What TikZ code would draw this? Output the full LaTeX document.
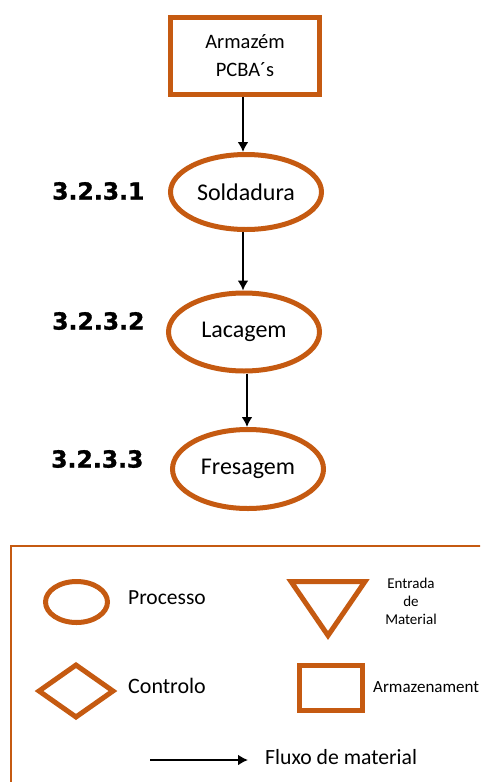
\documentclass[tikz,border=0pt]{standalone}
\usepackage{fontspec}
\setmainfont{Carlito}
\newfontfamily\numfont[BoldFeatures={FakeBold=1.2}]{DejaVu Sans}
\usetikzlibrary{shapes.geometric,arrows.meta}
\definecolor{rust}{RGB}{197,90,17}
\tikzset{
  proc/.style={ellipse, draw=rust, line width=5pt, inner sep=0pt,
               minimum width=151pt, font=\fontsize{24}{28}\selectfont},
  store/.style={rectangle, draw=rust, line width=5.5pt, inner sep=0pt},
  flow/.style={-{Latex[length=10pt,width=11pt]}, line width=2.4pt, black},
  stepnum/.style={anchor=west, inner sep=0pt,
                  font=\numfont\bfseries\fontsize{23.5}{26}\selectfont},
  legtext/.style={anchor=west, inner sep=0pt},
}
\begin{document}
\begin{tikzpicture}[x=1pt,y=-1pt]
\clip (0,0) rectangle (480,782);
\fill[white] (0,0) rectangle (480,782);

% process chain
\node[store, minimum width=149pt, minimum height=77pt,
      align=center, font=\fontsize{20.5}{28}\selectfont] (box) at (245,56)
      {Armazém\\PCBA´s};
\node[proc, minimum height=75pt] (s1) at (246,192) {Soldadura};
\node[proc, minimum height=78pt] (s2) at (244,332) {Lacagem};
\node[proc, minimum height=79pt] (s3) at (248,469) {Fresagem};

\node[stepnum] (n1) at (52,191) {3.2.3.1};
\node[stepnum] (n2) at (52,321) {3.2.3.2};
\node[stepnum] (n3) at (51,459) {3.2.3.3};

\draw[flow] ([xshift=-2pt]box.south) -- ([xshift=-2pt]box.south |- s1.north);
\draw[flow] ([xshift=-3pt]s1.south) -- ([xshift=-3pt]s1.south |- s2.north);
\draw[flow] ([xshift=3pt]s2.south) -- ([xshift=3pt]s2.south |- s3.north);

% legend frame
\draw[rust, line width=2pt] (11,546) rectangle (500,800);

% legend symbols
\node[ellipse, draw=rust, line width=5pt, inner sep=0pt,
      minimum width=62pt, minimum height=41pt] (lproc) at (76.5,602) {};
\node[legtext, font=\fontsize{21.5}{24}\selectfont] (tproc) at (128,598) {Processo};

\draw[rust, line width=5pt, line join=miter]
  (291,581.5) -- (365,581.5) -- (328,635.5) -- cycle;
\node[align=center, inner sep=0pt, font=\fontsize{15}{18}\selectfont]
  (tin) at (411,601) {Entrada\\de\\Material};

\node[diamond, draw=rust, line width=5pt, inner sep=0pt,
      minimum width=76pt, minimum height=54pt] (lctl) at (76,691) {};
\node[legtext, font=\fontsize{22}{24}\selectfont] (tctl) at (128,686) {Controlo};

\node[store, line width=5pt, minimum width=63pt, minimum height=45pt]
  (lsto) at (331,688) {};
\node[legtext, font=\fontsize{17}{20}\selectfont] (tsto) at (373,687) {Armazenament};

\coordinate (fa) at (150,760);
\coordinate (fb) at (248,760);
\draw[flow] (fa) -- (fb);
\node[legtext, font=\fontsize{21.7}{24}\selectfont] (tflow) at (265,757) {Fluxo de material};
\end{tikzpicture}
\end{document}
